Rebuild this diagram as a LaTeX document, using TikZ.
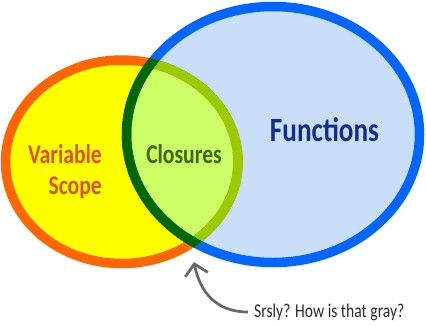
\documentclass[tikz,border=0pt]{standalone}
\usepackage{fontspec}
\setmainfont{Carlito}
\usetikzlibrary{arrows.meta}
\definecolor{orangeS}{HTML}{FF6600}
\definecolor{yellowF}{HTML}{FFFF00}
\definecolor{blueS}{HTML}{0066FF}
\definecolor{blueF}{HTML}{C9DEF9}
\definecolor{limeF}{HTML}{CCFF66}
\definecolor{limeS}{HTML}{99CC00}
\definecolor{darkG}{HTML}{006600}
\definecolor{txtOrange}{HTML}{E0501A}
\definecolor{txtGreen}{HTML}{3A6A00}
\definecolor{txtBlue}{HTML}{0F2D8A}
\definecolor{txtGray}{HTML}{2B2B2B}
\definecolor{arrGray}{HTML}{666666}
\newcommand{\orangeEll}{(121.75,161.75) ellipse [x radius=116.25pt, y radius=101.75pt]}
\newcommand{\blueEll}{(273,134.5) ellipse [x radius=146.5pt, y radius=128pt]}
\tikzset{
  ring/.style={line width=9.5pt},
  lbl/.style={font=\bfseries, inner sep=1pt},
  pointer/.style={draw=arrGray, line width=2.7pt, -{Straight Barb[length=11pt,width=23pt]}}
}
\begin{document}
\begin{tikzpicture}[x=1pt,y=-1pt]
\fill[white] (0,0) rectangle (426,325);
\useasboundingbox (0,0) rectangle (426,325);
% fills
\fill[yellowF] \orangeEll;
\fill[blueF] \blueEll;
\begin{scope}
  \clip \orangeEll;
  \fill[limeF] \blueEll;
\end{scope}
% orange ring
\draw[ring, orangeS] \orangeEll;
\begin{scope}
  \clip \blueEll;
  \draw[ring, limeS] \orangeEll;
\end{scope}
% blue ring
\draw[ring, blueS] \blueEll;
\begin{scope}
  \clip (121.75,161.75) ellipse [x radius=121pt, y radius=106.5pt];
  \draw[ring, darkG] \blueEll;
\end{scope}
% labels
\node[lbl, anchor=east, text=txtOrange] (vs) at (103,172.5)
  {\scalebox{0.8}[1]{\fontsize{27}{31}\selectfont\begin{tabular}{@{}r@{}}Variable\\Scope\end{tabular}}};
\node[lbl, text=txtGreen] (cl) at (184,154)
  {\scalebox{0.8}[1]{\fontsize{27}{31}\selectfont Closures}};
\node[lbl, text=txtBlue] (fn) at (324.5,130)
  {\scalebox{0.8}[1]{\fontsize{34}{40}\selectfont Functions}};
\node[font=\fontsize{19.5}{24}\selectfont, text=txtGray, anchor=west, inner xsep=6pt, inner ysep=2pt] (q) at (248,312)
  {\scalebox{0.8}[1]{Srsly? How is that gray?}};
\coordinate (tip) at (194,262);
\draw[pointer] (q.west) .. controls (216,312) and (200,292) .. (tip);
\end{tikzpicture}
\end{document}
